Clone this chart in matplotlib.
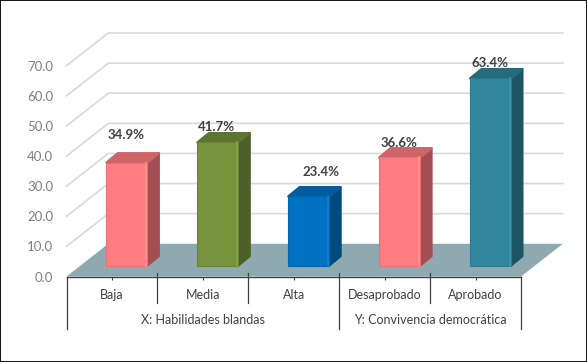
import matplotlib
matplotlib.use('Agg')
import matplotlib.pyplot as plt
from matplotlib.patches import Polygon, Rectangle

plt.rcParams['font.family'] = ['Lato', 'DejaVu Sans']

categories = ['Baja', 'Media', 'Alta', 'Desaprobado', 'Aprobado']
values = [34.9, 41.7, 23.4, 36.6, 63.4]
groups = ['X: Habilidades blandas', 'Y: Convivencia democrática']
group_sizes = [3, 2]
yticks = [0, 10, 20, 30, 40, 50, 60, 70]

front_colors = ['#FF7C80', '#77933C', '#0070C0', '#FF7C80', '#31859C']
side_colors = ['#A34E52', '#4C5F26', '#004A7E', '#A34E52', '#1D5463']
top_colors = ['#CC6468', '#5D7530', '#005C9E', '#CC6468', '#266B7E']
light_colors = ['#FF9093', '#86A346', '#0A7FD2', '#FF9093', '#3A95AE']
edge_colors = ['#E87276', '#6A8436', '#0066AE', '#E87276', '#2B7A8F']
# label nudges, the labels don't sit at a fixed distance from the bars
label_dx = [-0.01, -0.01, 0.13, -0.01, -0.01]
label_dy = [5.9, 2.0, 5.1, 1.7, 2.0]

floor_dx, floor_dy = 0.46, 10.86
bar_dx, bar_dy = 0.125, 3.1
bar_shift, bar_lift, bar_scale = 0.165, 3.65, 0.98
bar_width = 0.451

fig = plt.figure(figsize=(5.87, 3.62), dpi=100, facecolor='white')
ax = fig.add_axes([66.5 / 587, (362 - 276.5) / 362, 454.5 / 587, 210.8 / 362])
ax.set_xlim(-0.5, 4.5)
ax.set_ylim(0, 70)
ax.patch.set_visible(False)
for s in ['top', 'left', 'right']:
    ax.spines[s].set_visible(False)
ax.spines['bottom'].set_color('#404040')
ax.spines['bottom'].set_linewidth(1.0)
ax.spines['bottom'].set_zorder(6)

# floor and back wall gridlines
x0, x1 = -0.5, len(categories) - 0.5
ax.add_patch(Polygon([(x0, 0), (x1, 0), (x1 + floor_dx, floor_dy), (x0 + floor_dx, floor_dy)],
                     facecolor='#8EA9B0', edgecolor='none', clip_on=False, zorder=1))
for t in yticks[1:]:
    ax.plot([x0, x0 + floor_dx, x1 + floor_dx], [t, t + floor_dy, t + floor_dy],
            color='#D9D9D9', lw=1.2, clip_on=False, zorder=0.5)

# bars
for i, v in enumerate(values):
    left = i + bar_shift - bar_width / 2
    right = left + bar_width
    bottom = bar_lift
    top = bar_lift + v * bar_scale
    ax.add_patch(Polygon([(right, bottom), (right + bar_dx, bottom + bar_dy),
                          (right + bar_dx, top + bar_dy), (right, top)],
                         facecolor=side_colors[i], edgecolor=side_colors[i], lw=1.6,
                         joinstyle='round', clip_on=False, zorder=3))
    ax.add_patch(Polygon([(left, top), (right, top), (right + bar_dx, top + bar_dy),
                          (left + bar_dx, top + bar_dy)],
                         facecolor=top_colors[i], edgecolor=top_colors[i], lw=1.6,
                         joinstyle='round', clip_on=False, zorder=3))
    ax.add_patch(Rectangle((left, bottom), bar_width, top - bottom, facecolor=front_colors[i],
                           edgecolor=edge_colors[i], lw=0.8, clip_on=False, zorder=4))
    ax.plot([right - 0.012, right - 0.012], [bottom, top], color=light_colors[i], lw=1.2,
            clip_on=False, zorder=5)
    ax.text(i + bar_shift + label_dx[i], top + bar_dy + label_dy[i], '%.1f%%' % v,
            ha='center', va='center', fontsize=9.5, fontweight='bold', color='#404040',
            clip_on=False, zorder=7)

# axis ticks and labels
ax.set_yticks(yticks)
ax.set_yticklabels(['%.1f' % t for t in yticks], fontsize=9.5, color='#7F7F7F')
ax.tick_params(axis='y', length=0, pad=9.5)
ax.set_xticks(range(len(categories)))
ax.set_xticklabels(categories, fontsize=9, color='#404040')
ax.tick_params(axis='x', length=2.5, width=0.8, color='#404040', pad=6.5)

# multi level category axis
start = 0
edges = [-0.5]
for name, n in zip(groups, group_sizes):
    mid = start + (n - 1) / 2
    ax.text(mid, -14.4, name, ha='center', va='center', fontsize=9, color='#404040')
    start += n
    edges.append(start - 0.5)
for i in range(len(categories) + 1):
    xpos = i - 0.5
    tall = xpos in edges
    y_low = -17.3 if tall else -8.8
    y_high = 0 if xpos in (edges[0], edges[-1]) else 1.3
    ax.plot([xpos, xpos], [y_low, y_high], color='#404040', lw=0.9, clip_on=False, zorder=6)

# picture frame
fig.add_artist(Rectangle((0, 0), 1, 1, transform=fig.transFigure, fill=False,
                         edgecolor='#111111', lw=1.4))

fig.savefig('out.png', dpi=100)
